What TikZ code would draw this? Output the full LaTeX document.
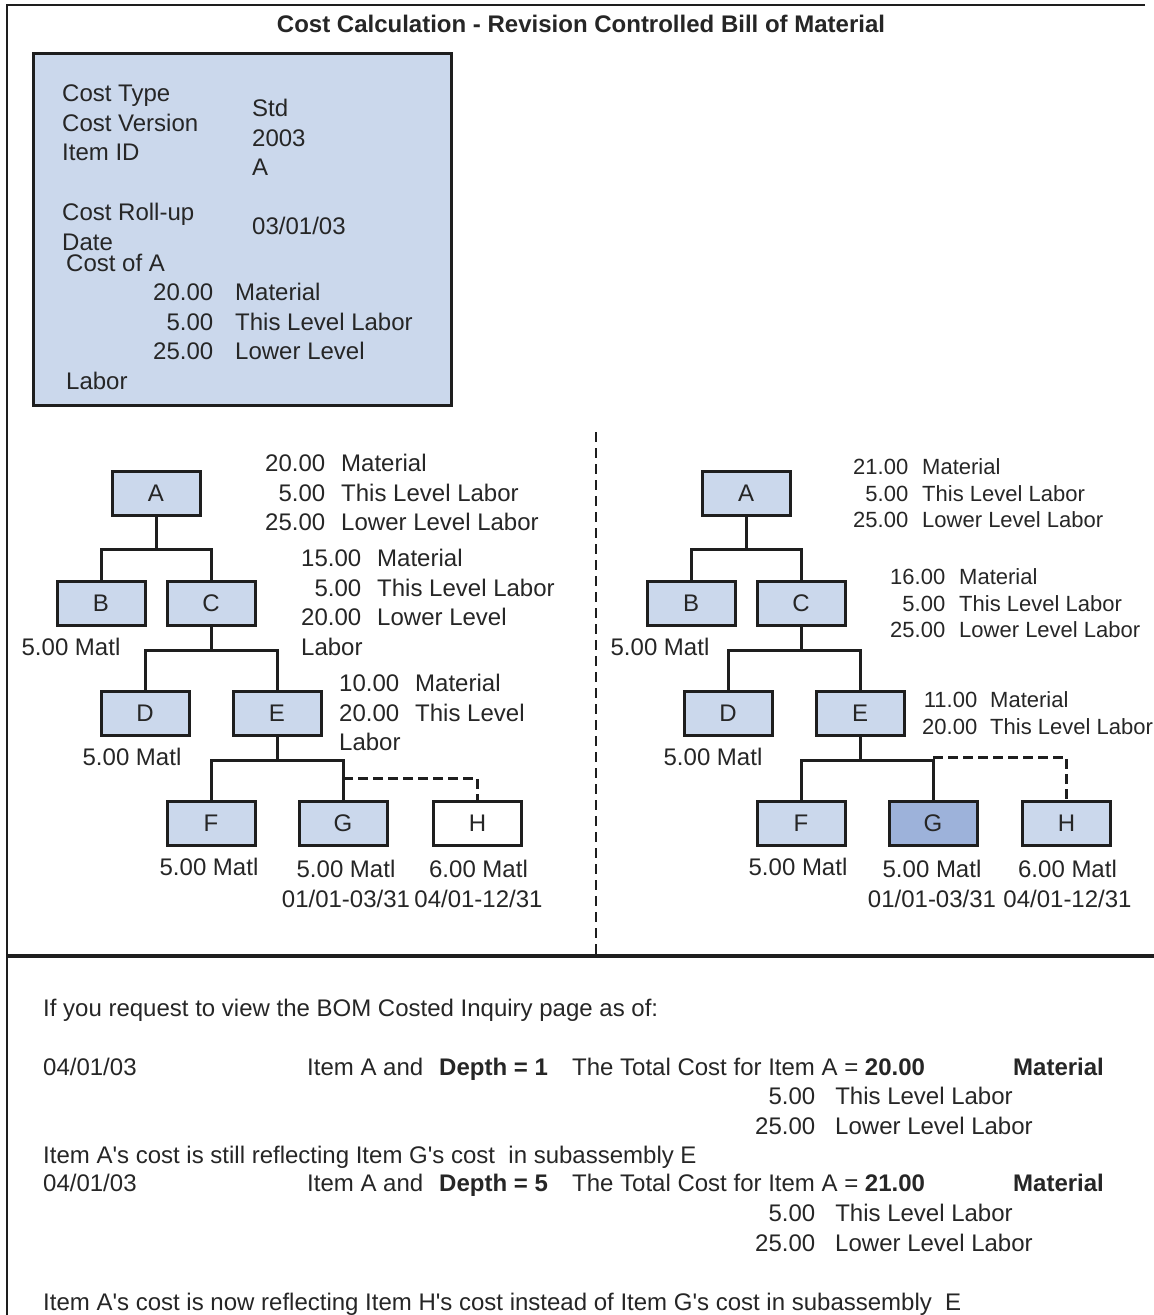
\documentclass[tikz,border=0pt]{standalone}
\usepackage{fontspec}
\setmainfont{Liberation Sans}[Ligatures=TeXOff]
\usetikzlibrary{positioning}
\definecolor{partfill}{HTML}{CBD8EC}
\definecolor{selfill}{HTML}{9DB2DA}
\definecolor{linegray}{HTML}{1E1E1E}
\definecolor{inkgray}{HTML}{262626}
\tikzset{
	txt/.style={inner sep=0pt, text=inkgray, font=\fontsize{24}{29.5}\selectfont},
	smalltxt/.style={inner sep=0pt, text=inkgray, font=\fontsize{22}{26.5}\selectfont},
	matl/.style={txt, text height=17.2pt, text depth=0pt},
	part/.style={draw=linegray, line width=3pt, fill=partfill, minimum width=88pt, minimum height=44pt,
			inner sep=0pt, text height=17.2pt, text depth=0pt, text=inkgray, font=\fontsize{24}{29.5}\selectfont},
	bomedge/.style={edge from parent path={(\tikzparentnode.south) -- ++(0pt,-#1) -| (\tikzchildnode.north)}},
	optlink/.style={draw=linegray, line width=2.8pt, dash pattern=on 10pt off 5pt}
}
\begin{document}
\begin{tikzpicture}[
			x=1pt, y=-1pt,
			level distance=110pt,
			level 1/.style={sibling distance=110pt, bomedge=33pt},
			level 2/.style={sibling distance=132pt, bomedge=24pt},
			level 3/.style={sibling distance=132pt, bomedge=24pt},
			edge from parent/.style={draw=linegray, line width=3pt}
		]
		\useasboundingbox (0,0) rectangle (1154,1315);
		\fill[white] (0,0) rectangle (1154,1315);
		\draw[line width=1.6pt, linegray] (1145,5) -- (7,5) -- (7,1315);
		\draw[line width=3.2pt, linegray] (7,956) -- (1154,956);
		\draw[line width=2.6pt, linegray, dash pattern=on 10pt off 6pt] (596,432) -- (596,956);

		\node[txt, font=\bfseries\fontsize{24}{29.5}\selectfont, anchor=base] (title) at (581,32.6)
			{Cost Calculation - Revision Controlled Bill of Material};

		\node[draw=linegray, line width=3.2pt, fill=partfill, minimum width=418pt, minimum height=352pt, inner sep=0pt]
			(hdr) at (242.5,229.5) {};
		\node[txt, anchor=base west] (hdrKeys) at (62,101.6)
			{\begin{tabular}[t]{@{}l@{}}Cost Type\\Cost Version\\Item ID\end{tabular}};
		\node[txt, anchor=base west] (hdrVals) at (252,116.6)
			{\begin{tabular}[t]{@{}l@{}}Std\\2003\\A\end{tabular}};
		\node[txt, anchor=base west] (hdrRoll) at (62,220.6)
			{\begin{tabular}[t]{@{}l@{}}Cost Roll-up\\Date\end{tabular}};
		\node[txt, anchor=base west] (hdrDate) at (252,234.6) {03/01/03};
		\node[txt, anchor=base west] (hdrCost) at (66,271.6) {Cost of A};
		\node[txt, anchor=base west] (hdrSum) at (153,300.6)
			{\begin{tabular}[t]{@{}r@{\hspace{22pt}}l@{}}20.00 & Material\\5.00 & This Level Labor\\25.00 & Lower Level\end{tabular}};
		\node[txt, anchor=base west] (hdrTail) at (66,389.6) {Labor};

		\node[part] (lA) at (156,493) {A}
		child {
				node[part] (lB) {B}
			}
		child {
				node[part] (lC) {C}
				child {node[part] (lD) {D}}
				child {
						node[part] (lE) {E}
						child {node[part] (lF) {F}}
						child {node[part] (lG) {G}}
					}
			};
		\node[part, fill=white, right=43.5pt of lG] (lH) {H};
		\draw[optlink] (lG.north) ++(0pt,21pt) -| (lH.north);

		\node[txt, anchor=base west] (lAc) at (265,471.6)
			{\begin{tabular}[t]{@{}r@{\hspace{16pt}}l@{}}20.00 & Material\\5.00 & This Level Labor\\25.00 & Lower Level Labor\end{tabular}};
		\node[txt, anchor=base west] (lCc) at (301,566.6)
			{\begin{tabular}[t]{@{}r@{\hspace{16pt}}l@{}}15.00 & Material\\5.00 & This Level Labor\\20.00 & Lower Level\\\multicolumn{2}{@{}l@{}}{Labor}\end{tabular}};
		\node[txt, anchor=base west] (lEc) at (339,691.6)
			{\begin{tabular}[t]{@{}r@{\hspace{16pt}}l@{}}10.00 & Material\\20.00 & This Level\\\multicolumn{2}{@{}l@{}}{Labor}\end{tabular}};

		\node[matl, below=12pt of lB, xshift=-30pt] (lBm) {5.00 Matl};
		\node[matl, below=12pt of lD, xshift=-13pt] (lDm) {5.00 Matl};
		\node[matl, below=12pt of lF, xshift=-2pt] (lFm) {5.00 Matl};
		\node[matl, below=14pt of lG, xshift=3pt] (lGm) {5.00 Matl};
		\node[matl, below=14pt of lH, xshift=1pt] (lHm) {6.00 Matl};
		\node[matl, below=11.8pt of lGm] (lGd) {01/01-03/31};
		\node[matl, below=11.8pt of lHm] (lHd) {04/01-12/31};

		\node[part] (rA) at (746,493) {A}
		child {
				node[part] (rB) {B}
			}
		child {
				node[part] (rC) {C}
				child[xshift=-7pt] {node[part] (rD) {D}}
				child[xshift=-7pt] {
						node[part] (rE) {E}
						child[xshift=7pt] {node[part] (rF) {F}}
						child[xshift=7pt] {node[part, fill=selfill] (rG) {G}}
					}
			};
		\node[part, right=42.5pt of rG] (rH) {H};
		\draw[optlink] (rG.north) ++(0pt,42pt) -| (rH.north);

		\node[smalltxt, anchor=base west] (rAc) at (853,474.9)
			{\begin{tabular}[t]{@{}r@{\hspace{14pt}}l@{}}21.00 & Material\\5.00 & This Level Labor\\25.00 & Lower Level Labor\end{tabular}};
		\node[smalltxt, anchor=base west] (rCc) at (890,584.9)
			{\begin{tabular}[t]{@{}r@{\hspace{14pt}}l@{}}16.00 & Material\\5.00 & This Level Labor\\25.00 & Lower Level Labor\end{tabular}};
		\node[smalltxt, anchor=base west] (rEc) at (922,707.9)
			{\begin{tabular}[t]{@{}r@{\hspace{13pt}}l@{}}11.00 & Material\\20.00 & This Level Labor\end{tabular}};

		\node[matl, below=12pt of rB, xshift=-31pt] (rBm) {5.00 Matl};
		\node[matl, below=12pt of rD, xshift=-15pt] (rDm) {5.00 Matl};
		\node[matl, below=12pt of rF, xshift=-3pt] (rFm) {5.00 Matl};
		\node[matl, below=14pt of rG, xshift=-1pt] (rGm) {5.00 Matl};
		\node[matl, below=14pt of rH, xshift=1pt] (rHm) {6.00 Matl};
		\node[matl, below=11.8pt of rGm] (rGd) {01/01-03/31};
		\node[matl, below=11.8pt of rHm] (rHd) {04/01-12/31};

		\node[txt, anchor=base west] (ask) at (43,1016.6) {If you request to view the BOM Costed Inquiry page as of:};
		\node[txt, anchor=base west] (dateOne) at (43,1075.6) {04/01/03};
		\node[txt, anchor=base west] (itemOne) at (307,1075.6) {Item A and};
		\node[txt, anchor=base west] (depthOne) at (439,1075.6) {\textbf{Depth = 1}};
		\node[txt, anchor=base west] (totalOne) at (572,1075.6) {The Total Cost for Item A = \textbf{20.00}};
		\node[txt, anchor=base west] (matOne) at (1013,1075.6) {\textbf{Material}};
		\node[txt, anchor=base west] (laborOne) at (755,1104.6)
			{\begin{tabular}[t]{@{}r@{\hspace{20pt}}l@{}}5.00 & This Level Labor\\25.00 & Lower Level Labor\end{tabular}};
		\node[txt, anchor=base west] (noteOne) at (43,1163.6) {Item A's cost is still reflecting Item G's cost~ in subassembly E};
		\node[txt, anchor=base west] (dateTwo) at (43,1191.6) {04/01/03};
		\node[txt, anchor=base west] (itemTwo) at (307,1191.6) {Item A and};
		\node[txt, anchor=base west] (depthTwo) at (439,1191.6) {\textbf{Depth = 5}};
		\node[txt, anchor=base west] (totalTwo) at (572,1191.6) {The Total Cost for Item A = \textbf{21.00}};
		\node[txt, anchor=base west] (matTwo) at (1013,1191.6) {\textbf{Material}};
		\node[txt, anchor=base west] (laborTwo) at (755,1221.6)
			{\begin{tabular}[t]{@{}r@{\hspace{20pt}}l@{}}5.00 & This Level Labor\\25.00 & Lower Level Labor\end{tabular}};
		\node[txt, anchor=base west] (noteTwo) at (43,1310.6)
			{Item A's cost is now reflecting Item H's cost instead of Item G's cost in subassembly~ E};
	\end{tikzpicture}
\end{document}
